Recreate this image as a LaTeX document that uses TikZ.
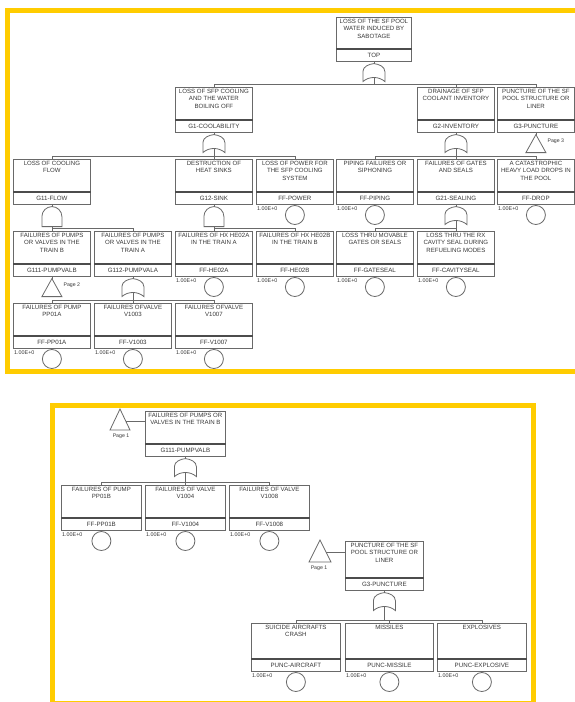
\documentclass[tikz,border=0pt]{standalone}
\usepackage{fontspec}
\setmainfont{Liberation Sans}
\usetikzlibrary{positioning}

\definecolor{ftyellow}{RGB}{255,204,0}
\definecolor{ftline}{RGB}{105,105,105}
\definecolor{fttext}{RGB}{55,55,55}

\tikzset{
  evbox/.style={draw=ftline, line width=0.8pt, anchor=north west,
    minimum width=77pt, minimum height=32pt, inner sep=0pt},
  evtext/.style={anchor=north, align=center, inner sep=2pt,
    font=\fontsize{6.1}{7.3}\selectfont, text=fttext},
  idbox/.style={draw=ftline, line width=0.8pt, anchor=north,
    minimum width=77pt, minimum height=12pt, inner sep=0pt,
    font=\fontsize{6.2}{7}\selectfont, text=fttext},
  sepline/.style={draw=black!70, line width=1.6pt},
  basic/.style={draw=ftline, line width=0.8pt, circle, minimum size=19pt, inner sep=0pt},
  prob/.style={anchor=north west, inner sep=0pt, font=\fontsize{5.4}{6}\selectfont, text=fttext},
  conn/.style={draw=ftline, line width=0.8pt},
  gate/.style={draw=ftline, line width=0.8pt, fill=white},
  pagetxt/.style={inner sep=0pt, font=\fontsize{5.2}{6}\selectfont, text=fttext},
  frame/.style={draw=ftyellow, line width=5pt},
}

% event: [width]{name}{position}{upper height}{description}{id}
\newcommand{\Event}[6][77pt]{%
  \node[evbox, minimum width=#1, minimum height=#4, label={[evtext]north:{#5}}] (#2) at (#3) {};
  \node[idbox, minimum width=#1] (#2-id) at (#2.south) {#6};
  \draw[sepline] (#2.south west) -- (#2.south east);}

% basic event circle under an event
\newcommand{\Basic}[1]{%
  \node[basic, below=0.5pt of #1-id] (#1-c) {};
  \node[prob] (#1-p) at ([xshift=1pt,yshift=-1.5pt]#1-id.south west) {1.00E+0};}

\newcommand{\OrGate}[1]{%
  \begin{scope}[shift={(#1-id.south)}]
    \draw[gate] (-11,20) -- (-11,10) .. controls (-11,5) and (-5,2.5) .. (0,2)
      .. controls (5,2.5) and (11,5) .. (11,10) -- (11,20)
      .. controls (5,14.5) and (-5,14.5) .. (-11,20) -- cycle;
    \coordinate (#1-in) at (0,2);
    \coordinate (#1-out) at (0,15.9);
  \end{scope}
  \draw[conn] (#1-id.south) -- (#1-in);}

\newcommand{\AndGate}[1]{%
  \begin{scope}[shift={(#1-id.south)}]
    \draw[gate] (-10,22) -- (-10,12) .. controls (-10,6.5) and (-5.5,2) .. (0,2)
      .. controls (5.5,2) and (10,6.5) .. (10,12) -- (10,22) -- cycle;
    \coordinate (#1-in) at (0,2);
    \coordinate (#1-out) at (0,22);
  \end{scope}
  \draw[conn] (#1-id.south) -- (#1-in);}

% transfer triangle under an event: {name}{page}
\newcommand{\Transfer}[2]{%
  \begin{scope}[shift={(#1-id.south)}]
    \draw[gate] (0,2) -- (10,20) -- (-10,20) -- cycle;
    \coordinate (#1-in) at (0,2);
  \end{scope}
  \draw[conn] (#1-id.south) -- (#1-in);
  \node[pagetxt, anchor=west] (#1-page) at ([xshift=11.5pt,yshift=-9pt]#1-id.south) {#2};}

% gate output down to the children
\newcommand{\Bus}[2]{%
  \foreach \c in {#2}{\draw[conn] (#1-out) |- ([yshift=3pt]\c.north) -- (\c.north);}}

\begin{document}
\begin{tikzpicture}[x=1pt, y=-1pt]
  \useasboundingbox (0,0) rectangle (575,702);
  \fill[white] (0,0) rectangle (575,702);

  % frames
  \draw[frame] (7.5,10.5) rectangle (580,371.5);
  \draw[frame] (52.5,405.5) rectangle (533,703.5);

  %%% page 1
  \Event[75pt]{top}{336,17}{31pt}{LOSS OF THE SF POOL\\WATER INDUCED BY\\SABOTAGE}{TOP}

  \Event{g1}{175,87}{32pt}{LOSS OF SFP COOLING\\AND THE WATER\\BOILING OFF}{G1-COOLABILITY}
  \Event{g2}{417,87}{32pt}{DRAINAGE OF SFP\\COOLANT INVENTORY}{G2-INVENTORY}
  \Event{g3}{497,87}{32pt}{PUNCTURE OF THE SF\\POOL STRUCTURE OR\\LINER}{G3-PUNCTURE}

  \Event{g11}{13,159}{32pt}{LOSS OF COOLING\\FLOW}{G11-FLOW}
  \Event{g12}{175,159}{32pt}{DESTRUCTION OF\\HEAT SINKS}{G12-SINK}
  \Event{power}{256,159}{32pt}{LOSS OF POWER FOR\\THE SFP COOLING\\SYSTEM}{FF-POWER}
  \Event{piping}{336,159}{32pt}{PIPING FAILURES OR\\SIPHONING}{FF-PIPING}
  \Event{g21}{417,159}{32pt}{FAILURES OF GATES\\AND SEALS}{G21-SEALING}
  \Event{drop}{497,159}{32pt}{A CATASTROPHIC\\HEAVY LOAD DROPS IN\\THE POOL}{FF-DROP}

  \Event{g111}{13,231}{32pt}{FAILURES OF PUMPS\\OR VALVES IN THE\\TRAIN B}{G111-PUMPVALB}
  \Event{g112}{94,231}{32pt}{FAILURES OF PUMPS\\OR VALVES IN THE\\TRAIN A}{G112-PUMPVALA}
  \Event{he02a}{175,231}{32pt}{FAILURES OF HX HE02A\\IN THE TRAIN A}{FF-HE02A}
  \Event{he02b}{256,231}{32pt}{FAILURES OF HX HE02B\\IN THE TRAIN B}{FF-HE02B}
  \Event{gateseal}{336,231}{32pt}{LOSS THRU MOVABLE\\GATES OR SEALS}{FF-GATESEAL}
  \Event{cavity}{417,231}{32pt}{LOSS THRU THE RX\\CAVITY SEAL DURING\\REFUELING MODES}{FF-CAVITYSEAL}

  \Event{pp01a}{13,303}{32pt}{FAILURES OF PUMP\\PP01A}{FF-PP01A}
  \Event{v1003}{94,303}{32pt}{FAILURES OFVALVE\\V1003}{FF-V1003}
  \Event{v1007}{175,303}{32pt}{FAILURES OFVALVE\\V1007}{FF-V1007}

  \OrGate{top}  \Bus{top}{g1,g2,g3}
  \OrGate{g1}   \Bus{g1}{g11,g12,power}
  \OrGate{g2}   \Bus{g2}{piping,g21,drop}
  \Transfer{g3}{Page 3}
  \AndGate{g11} \Bus{g11}{g111,g112}
  \AndGate{g12} \Bus{g12}{he02a,he02b}
  \OrGate{g21}  \Bus{g21}{gateseal,cavity}
  \Transfer{g111}{Page 2}
  \OrGate{g112} \Bus{g112}{pp01a,v1003,v1007}

  \Basic{power} \Basic{piping} \Basic{drop}
  \Basic{he02a} \Basic{he02b} \Basic{gateseal} \Basic{cavity}
  \Basic{pp01a} \Basic{v1003} \Basic{v1007}

  %%% page 2
  \Event[80pt]{b111}{145,411}{32pt}{FAILURES OF PUMPS OR\\VALVES IN THE TRAIN B}{G111-PUMPVALB}
  \Event[80pt]{pp01b}{61,485}{32pt}{FAILURES OF PUMP\\PP01B}{FF-PP01B}
  \Event[80pt]{v1004}{145,485}{32pt}{FAILURES OF VALVE\\V1004}{FF-V1004}
  \Event[80pt]{v1008}{229,485}{32pt}{FAILURES OF VALVE\\V1008}{FF-V1008}
  \OrGate{b111} \Bus{b111}{pp01b,v1004,v1008}
  \Basic{pp01b} \Basic{v1004} \Basic{v1008}

  \draw[gate] (120,409) -- (130,430) -- (110,430) -- cycle;
  \coordinate (b111-tr) at (125.7,421);
  \draw[conn] (b111-tr) -- (b111-tr -| b111.west);
  \node[pagetxt] (b111-page) at (121,436) {Page 1};

  %%% page 3
  \Event[78pt]{b3}{345,541}{36pt}{PUNCTURE OF THE SF\\POOL STRUCTURE OR\\LINER}{G3-PUNCTURE}
  \Event[89pt]{aircraft}{251,623}{35pt}{SUICIDE AIRCRAFTS\\CRASH}{PUNC-AIRCRAFT}
  \Event[88pt]{missile}{345,623}{35pt}{MISSILES}{PUNC-MISSILE}
  \Event[89pt]{explosive}{437,623}{35pt}{EXPLOSIVES}{PUNC-EXPLOSIVE}
  \OrGate{b3} \Bus{b3}{aircraft,missile,explosive}
  \Basic{aircraft} \Basic{missile} \Basic{explosive}

  \draw[gate] (320,540) -- (331,562) -- (309,562) -- cycle;
  \coordinate (b3-tr) at (326,552);
  \draw[conn] (b3-tr) -- (b3-tr -| b3.west);
  \node[pagetxt] (b3-page) at (319,568) {Page 1};
\end{tikzpicture}
\end{document}
